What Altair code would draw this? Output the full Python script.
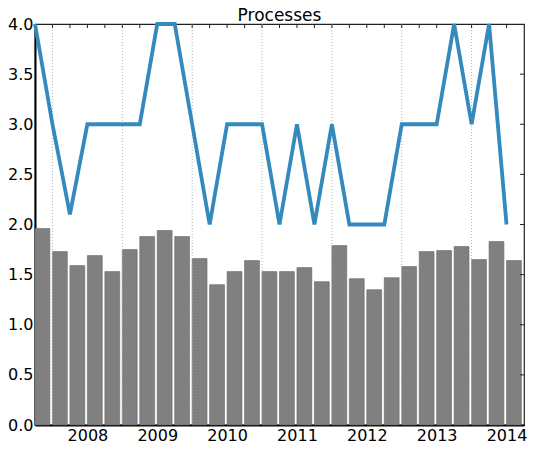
import altair as alt
import pandas as pd

# quarterly bars (28 quarters, 2007 Q2 .. 2014 Q1)
bar_values = [1.96, 1.73, 1.59, 1.69, 1.53, 1.75, 1.88, 1.94, 1.88, 1.66, 1.40, 1.53, 1.64, 1.53,
              1.53, 1.57, 1.43, 1.79, 1.46, 1.35, 1.47, 1.58, 1.73, 1.74, 1.78, 1.65, 1.83, 1.64]
line_values = [4, 3, 2.1, 3, 3, 3, 3, 4, 4, 3, 2, 3, 3, 3, 2, 3, 2, 3, 2, 2, 2, 3, 3, 3, 4, 3, 4, 2]
year_labels = ["2008", "2009", "2010", "2011", "2012", "2013", "2014"]
year_positions = [3, 7, 11, 15, 19, 23, 27]
grid_positions = [1, 5, 9, 13, 17, 21, 25]
minor_tick_positions = list(range(1, 28))
right_tick_positions = [0.5, 1, 1.5, 2, 2.5, 3, 3.5]

W, H = 489, 401

n = len(bar_values)
bars_df = pd.DataFrame({"k": list(range(n)),
                        "k2": [i + 0.85 for i in range(n)],
                        "v": bar_values})
line_df = pd.DataFrame({"k": list(range(n)), "v": line_values})
grid_df = pd.DataFrame({"k": grid_positions})
minor_df = pd.DataFrame({"k": minor_tick_positions})
rtick_df = pd.DataFrame({"v": right_tick_positions})

label_expr = "{" + ",".join(f"'{p}':'{y}'" for p, y in zip(year_positions, year_labels)) + "}[datum.value]"

xscale = alt.Scale(domain=[0, 28], nice=False, zero=False, padding=0)
yscale = alt.Scale(domain=[0, 4], nice=False, zero=False, padding=0)
FONT = "DejaVu Sans"

bars = alt.Chart(bars_df).mark_bar(color="#808080", stroke="#666666", strokeWidth=0.6).encode(
    x=alt.X("k:Q", scale=xscale,
            axis=alt.Axis(orient="bottom", values=year_positions, labelExpr=label_expr,
                          tickSize=0, labelPadding=2, domainColor="black", domainWidth=2,
                          grid=False, title=None, labelFont=FONT, labelFontSize=16,
                          labelColor="black", labelFlush=False, labelOverlap=False)),
    x2="k2:Q",
    y=alt.Y("v:Q", scale=yscale,
            axis=alt.Axis(orient="left", values=[0, 0.5, 1, 1.5, 2, 2.5, 3, 3.5, 4], format=".1f",
                          tickSize=0, labelPadding=2, domainColor="black", domainWidth=2,
                          grid=False, title=None, labelFont=FONT, labelFontSize=16,
                          labelColor="black", labelFlush=False, labelOverlap=False)),
    y2=alt.datum(0),
)

grid = alt.Chart(grid_df).mark_rule(color="#b0b0b0", strokeDash=[1, 2], strokeWidth=1).encode(
    x=alt.X("k:Q", scale=xscale),
    y=alt.value(0), y2=alt.value(H)
)

minor = alt.Chart(minor_df).mark_rule(color="#222", strokeWidth=1).encode(
    x=alt.X("k:Q", scale=xscale),
    y=alt.value(0), y2=alt.value(4)
)

rticks = alt.Chart(rtick_df).mark_rule(color="#222", strokeWidth=1).encode(
    y=alt.Y("v:Q", scale=yscale),
    x=alt.value(W - 4), x2=alt.value(W)
)

line = alt.Chart(line_df).mark_line(color="#348ABD", strokeWidth=3.8).encode(
    x=alt.X("k:Q", scale=xscale),
    y=alt.Y("v:Q", scale=yscale),
)

chart = alt.layer(bars, grid, minor, rticks, line).properties(
    width=W, height=H,
    title=alt.TitleParams("Processes", fontSize=17, font=FONT, fontWeight="normal",
                          anchor="middle", offset=0, dy=9, color="black"),
    autosize=alt.AutoSizeParams(type="none"),
    padding={"left": 27, "top": 16, "right": 3, "bottom": 20},
).configure_view(stroke="#222", strokeWidth=1.2)

chart.save("out.html", embed_options={"renderer": "svg", "actions": False})
